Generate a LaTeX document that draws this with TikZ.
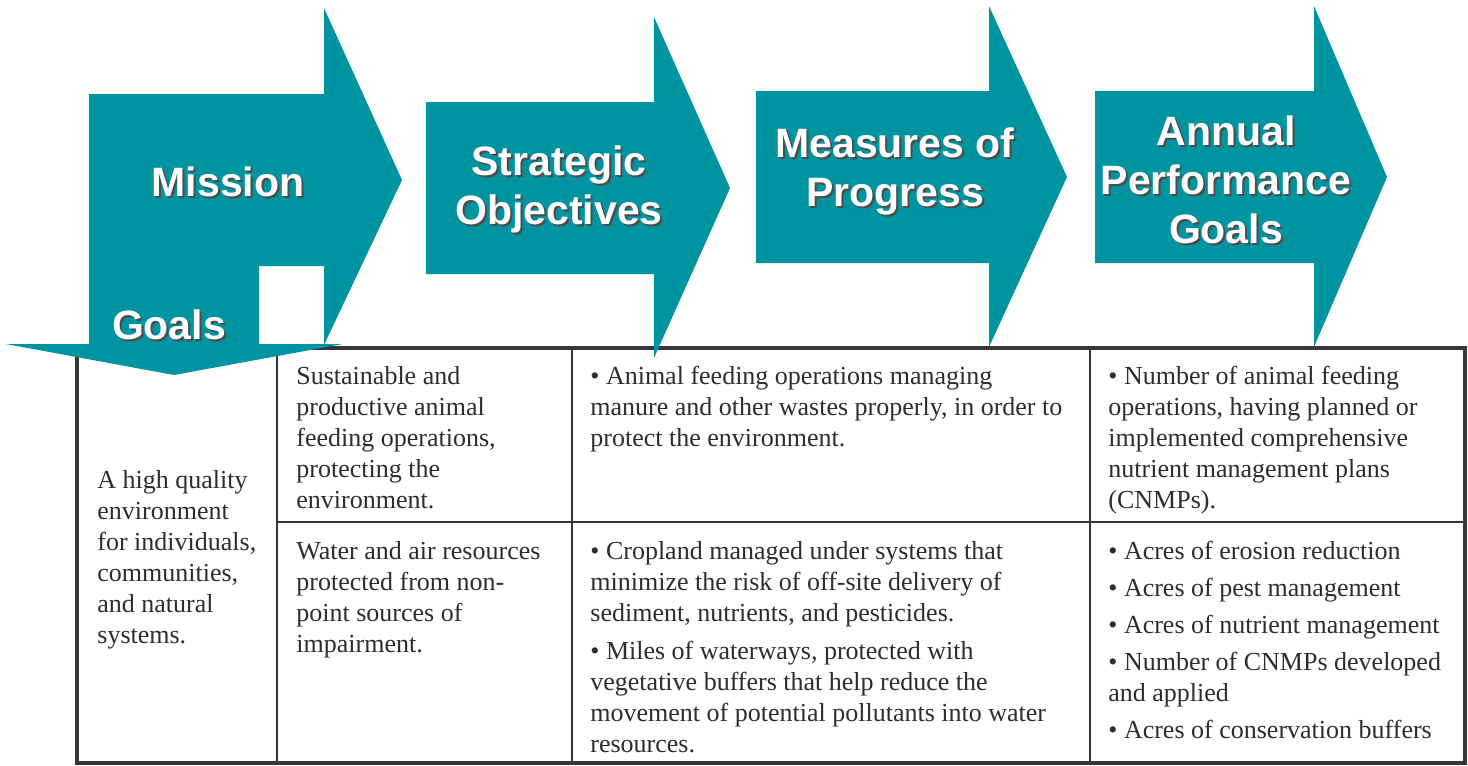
\documentclass[tikz,border=0pt]{standalone}
\usepackage{fontspec}
\setmainfont{Liberation Serif}
\newfontfamily\hdrfont{Liberation Sans}
\definecolor{arrowteal}{RGB}{0,147,160}
\definecolor{tableline}{RGB}{55,54,58}
\definecolor{celltext}{RGB}{45,45,45}
% white heading with a dark drop shadow
\newcommand{\hdrlabel}[4]{%
  \node[hdrshade] at (#2+2,#3+2) {#4};
  \node[hdr] (#1) at (#2,#3) {#4};}

\begin{document}
\begin{tikzpicture}[x=0.5pt,y=-0.5pt,
    arrowbody/.style={fill=arrowteal,draw=none},
    hdr/.style={font=\hdrfont\bfseries\fontsize{20.5}{24.5}\selectfont,text=white,align=center,inner sep=0pt},
    hdrshade/.style={hdr,text=black!70},
    celltxt/.style={font=\fontsize{13}{15.5}\selectfont,text=celltext,align=left,inner sep=0pt,anchor=north west},
    outer/.style={draw=tableline,line width=2pt},
    inner/.style={draw=tableline,line width=1pt}]
  \useasboundingbox (0,0) rectangle (1468,766);

  % table
  \draw[inner] (277,348) -- (277,763) (572,348) -- (572,763)
    (1090,348) -- (1090,763) (277,522) -- (1465,522);
  \draw[outer] (77,348) rectangle (1465,763);

  \node[celltxt,anchor=west] (goal) at (97,560) {A high quality\\environment\\for individuals,\\communities,\\and natural\\systems.};
  \node[celltxt] (obj1) at (296,366) {Sustainable and\\productive animal\\feeding operations,\\protecting the\\environment.};
  \node[celltxt] (obj2) at (296,541) {Water and air resources\\protected from non-\\point sources of\\impairment.};
  \node[celltxt] (meas1) at (590,366) {• Animal feeding operations managing\\manure and other wastes properly, in order to\\protect the environment.};
  \node[celltxt] (meas2) at (590,541) {• Cropland managed under systems that\\minimize the risk of off-site delivery of\\sediment, nutrients, and pesticides.\\[3.5pt]
    • Miles of waterways, protected with\\vegetative buffers that help reduce the\\movement of potential pollutants into water\\resources.};
  \node[celltxt] (perf1) at (1108,366) {• Number of animal feeding\\operations, having planned or\\implemented comprehensive\\nutrient management plans\\(CNMPs).};
  \node[celltxt] (perf2) at (1108,541) {• Acres of erosion reduction\\[3pt]• Acres of pest management\\[3pt]• Acres of nutrient management\\[3pt]
    • Number of CNMPs developed\\and applied\\[3pt]• Acres of conservation buffers};

  % arrows
  \fill[arrowbody] (89,94) -- (324,94) -- (324,8) -- (402,180) -- (324,345) -- (324,266) -- (89,266) -- cycle;
  \fill[arrowbody] (89,265) -- (259,265) -- (259,344) -- (343,344) -- (174,375) -- (6,344) -- (89,344) -- cycle;
  \fill[arrowbody] (426,102) -- (654,102) -- (654,17) -- (730,188) -- (654,358) -- (654,274) -- (426,274) -- cycle;
  \fill[arrowbody] (756,91) -- (989,91) -- (989,6) -- (1067,177) -- (989,347) -- (989,263) -- (756,263) -- cycle;
  \fill[arrowbody] (1095,91) -- (1314,91) -- (1314,6) -- (1387,177) -- (1314,347) -- (1314,263) -- (1095,263) -- cycle;

  \hdrlabel{mission}{228}{182}{Mission}
  \hdrlabel{goals}{169}{325}{Goals}
  \hdrlabel{strategic}{559}{189}{Strategic\\Objectives}
  \hdrlabel{measures}{895}{171}{Measures of\\Progress}
  \hdrlabel{annual}{1226}{180}{Annual\\Performance\\Goals}
\end{tikzpicture}
\end{document}
